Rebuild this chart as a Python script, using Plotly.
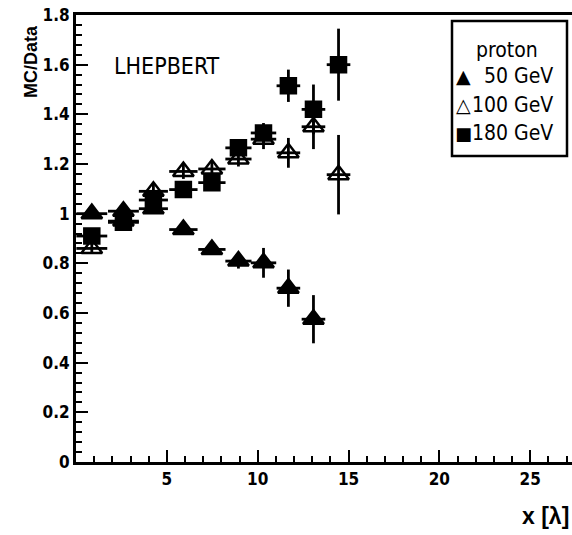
import plotly.graph_objects as go

x_centers = [0.87, 2.61, 4.26, 5.91, 7.48, 8.94, 10.32, 11.69, 13.07, 14.45]
x_halfw = [0.85, 0.85, 0.8, 0.78, 0.75, 0.72, 0.7, 0.65, 0.65, 0.65]

y50 = [1.00, 1.01, 1.02, 0.936, 0.856, 0.809, 0.802, 0.70, 0.575]
e50 = [0.02, 0.02, 0.02, 0.02, 0.02, 0.03, 0.06, 0.075, 0.097]

y100 = [0.86, 0.97, 1.09, 1.17, 1.18, 1.22, 1.30, 1.245, 1.35, 1.157]
e100 = [0.02, 0.02, 0.03, 0.03, 0.03, 0.03, 0.04, 0.06, 0.09, 0.16]

y180 = [0.91, 0.965, 1.055, 1.097, 1.125, 1.265, 1.325, 1.515, 1.42, 1.60]
e180 = [0.02, 0.02, 0.03, 0.03, 0.03, 0.03, 0.04, 0.065, 0.10, 0.145]

legend_title = "proton"
labels = ["50 GeV", "100 GeV", "180 GeV"]
legend_glyphs = ["\u25B2", "\u25B3", "\u25A0"]

COND = "DejaVu Sans Condensed, Liberation Sans, Arial"

fig = go.Figure()

def add(series_y, series_e, name, symbol, size):
    n = len(series_y)
    fig.add_trace(go.Scatter(
        x=x_centers[:n], y=series_y, mode="markers", name=name,
        marker=dict(symbol=symbol, size=size, color="black",
                    line=dict(color="black", width=2.5)),
        error_x=dict(type="data", array=x_halfw[:n], width=0, thickness=2.8, color="black"),
        error_y=dict(type="data", array=series_e, width=0, thickness=2.8, color="black"),
    ))

add(y50, e50, labels[0], "triangle-up", 18)
add(y100, e100, labels[1], "triangle-up-open", 18)
add(y180, e180, labels[2], "square", 15)

W, H = 572, 535
L, R, T, B = 76, 0, 15, 73
pw = W - L - R
ph = H - T - B

def px(xpix):
    return (xpix - L) / pw

def py(ypix):
    return 1 - (ypix - T) / ph

fig.update_layout(
    width=W, height=H,
    margin=dict(l=L, r=R, t=T, b=B),
    paper_bgcolor="white", plot_bgcolor="white",
    showlegend=False,
    xaxis=dict(
        range=[0, 27.3], showgrid=False, zeroline=False,
        showline=True, linecolor="black", linewidth=3, mirror=True,
        ticks="inside", ticklen=12, tickwidth=2, tickcolor="black",
        tickvals=[5, 10, 15, 20, 25],
        minor=dict(ticks="inside", ticklen=6, tickwidth=2, tickcolor="black", dtick=1, tick0=0),
        tickfont=dict(family=COND, size=17, color="black", weight="bold"),
    ),
    yaxis=dict(
        range=[0, 1.8], showgrid=False, zeroline=False,
        showline=True, linecolor="black", linewidth=3, mirror=False,
        ticks="inside", ticklen=12, tickwidth=2, tickcolor="black",
        tickvals=[0, 0.2, 0.4, 0.6, 0.8, 1, 1.2, 1.4, 1.6, 1.8],
        ticktext=["0", "0.2", "0.4", "0.6", "0.8", "1", "1.2", "1.4", "1.6", "1.8"],
        minor=dict(ticks="inside", ticklen=6, tickwidth=2, tickcolor="black", dtick=0.04, tick0=0),
        tickfont=dict(family=COND, size=17, color="black", weight="bold"),
    ),
)

fig.add_annotation(
    text="LHEPBERT", xref="paper", yref="paper",
    x=px(112), y=py(66), xanchor="left", yanchor="middle",
    showarrow=False,
    font=dict(family=COND, size=23, color="black"),
)
fig.add_annotation(
    text="<b>MC/Data</b>", xref="paper", yref="paper",
    x=px(31), y=py(62), xanchor="center", yanchor="middle",
    textangle=-90, showarrow=False,
    font=dict(family="Liberation Sans, Arial", size=18, color="black"),
)
fig.add_annotation(
    text="<b>x [λ]</b>", xref="paper", yref="paper",
    x=px(571), y=py(516), xanchor="right", yanchor="middle",
    showarrow=False,
    font=dict(family="Liberation Sans, Arial", size=23, color="black"),
)

# legend box
fig.add_shape(type="rect", xref="paper", yref="paper",
              x0=px(452), x1=px(567), y0=py(156), y1=py(21),
              line=dict(color="black", width=2.5), fillcolor="white", layer="above")
fig.add_annotation(text=legend_title, xref="paper", yref="paper",
                   x=px(507), y=py(50), xanchor="center", yanchor="middle",
                   showarrow=False, font=dict(family=COND, size=21, color="black"))
row_y = [76, 105, 133]
glyph_sizes = [19, 19, 18]
glyph_weights = ["normal", "bold", "normal"]
for lab, g, ry, gs, gw in zip(labels, legend_glyphs, row_y, glyph_sizes, glyph_weights):
    fig.add_annotation(text=lab, xref="paper", yref="paper",
                       x=px(555), y=py(ry), xanchor="right", yanchor="middle",
                       showarrow=False, font=dict(family=COND, size=21, color="black"))
    fig.add_annotation(text=g, xref="paper", yref="paper",
                       x=px(463), y=py(ry), xanchor="center", yanchor="middle",
                       showarrow=False,
                       font=dict(family="DejaVu Sans", size=gs, color="black", weight=gw))

fig.write_html("out.html",
               config={"displayModeBar": False},
               post_script="document.body.style.margin='0';document.body.style.overflow='hidden';")
